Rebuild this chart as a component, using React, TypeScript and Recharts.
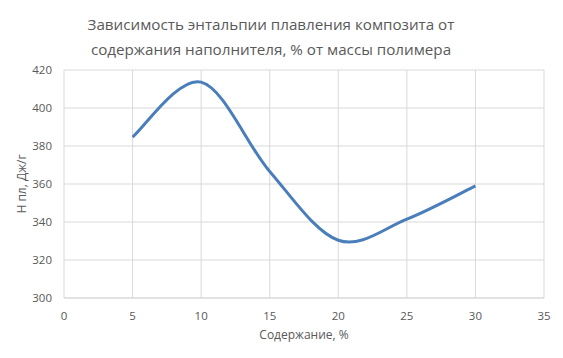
import React from "react";
import { LineChart, Line, XAxis, YAxis, CartesianGrid } from "recharts";

const contents = [5, 10, 15, 20, 25, 30];
const enthalpy = [384.7, 413.6, 366.6, 330.4, 341.5, 359];
const xTicks = [0, 5, 10, 15, 20, 25, 30, 35];
const yTicks = [300, 320, 340, 360, 380, 400, 420];
const titleLines = [
  "Зависимость энтальпии плавления композита от",
  "содержания наполнителя, % от массы полимера",
];
const xLabel = "Содержание, %";
const yLabel = "Н пл, Дж/г";

const data = contents.map((c, i) => ({ x: c, y: enthalpy[i] }));

const FONT = "'Open Sans', sans-serif";
const TXT = "#595959";

// Excel-like smoothed line (Catmull-Rom through points as cubic Beziers)
function excelSmooth(context: any) {
  let pts: [number, number][] = [];
  return {
    areaStart() {},
    areaEnd() {},
    lineStart() {
      pts = [];
    },
    lineEnd() {
      const n = pts.length;
      if (!n) return;
      context.moveTo(pts[0][0], pts[0][1]);
      for (let i = 0; i < n - 1; i++) {
        const p0 = pts[Math.max(0, i - 1)];
        const p1 = pts[i];
        const p2 = pts[i + 1];
        const p3 = pts[Math.min(n - 1, i + 2)];
        const c1x = p1[0] + (p2[0] - p0[0]) / 6;
        const c1y = p1[1] + (p2[1] - p0[1]) / 6;
        const c2x = p2[0] - (p3[0] - p1[0]) / 6;
        const c2y = p2[1] - (p3[1] - p1[1]) / 6;
        context.bezierCurveTo(c1x, c1y, c2x, c2y, p2[0], p2[1]);
      }
    },
    point(x: number, y: number) {
      pts.push([+x, +y]);
    },
  };
}

export default function App() {
  return (
    <div style={{ position: "absolute", left: 0, top: 0, width: 563, height: 358, background: "#fff", fontFamily: FONT }}>
      <div
        style={{
          position: "absolute",
          left: 0,
          top: 12,
          width: 542,
          textAlign: "center",
          color: TXT,
          fontSize: 15.2,
          lineHeight: "25px",
        }}
      >
        {titleLines.map((t) => (
          <div key={t}>{t}</div>
        ))}
      </div>
      <LineChart
        width={563}
        height={358}
        data={data}
        margin={{ top: 70, right: 19, bottom: 0, left: 0 }}
      >
        <CartesianGrid stroke="#d9d9d9" strokeWidth={1} />
        <XAxis
          dataKey="x"
          type="number"
          domain={[0, 35]}
          ticks={xTicks}
          interval={0}
          tickLine={false}
          axisLine={{ stroke: "#d9d9d9" }}
          tick={{ fill: TXT, fontSize: 11.5, fontFamily: FONT }}
          tickMargin={8}
          height={60}
          label={{ value: xLabel, position: "insideTop", offset: 32, fill: TXT, fontSize: 12, fontFamily: FONT }}
        />
        <YAxis
          type="number"
          domain={[300, 420]}
          ticks={yTicks}
          interval={0}
          tickLine={false}
          axisLine={false}
          tickSize={0}
          tickMargin={12}
          width={64}
          tick={{ fill: TXT, fontSize: 11.5, fontFamily: FONT }}
          label={{ value: yLabel, angle: -90, position: "insideLeft", offset: 22, fill: TXT, fontSize: 12, fontFamily: FONT, style: { textAnchor: "middle" } }}
        />
        <Line
          dataKey="y"
          type={excelSmooth as any}
          stroke="#4a7ebb"
          strokeWidth={3}
          dot={false}
          isAnimationActive={false}
        />
      </LineChart>
    </div>
  );
}
